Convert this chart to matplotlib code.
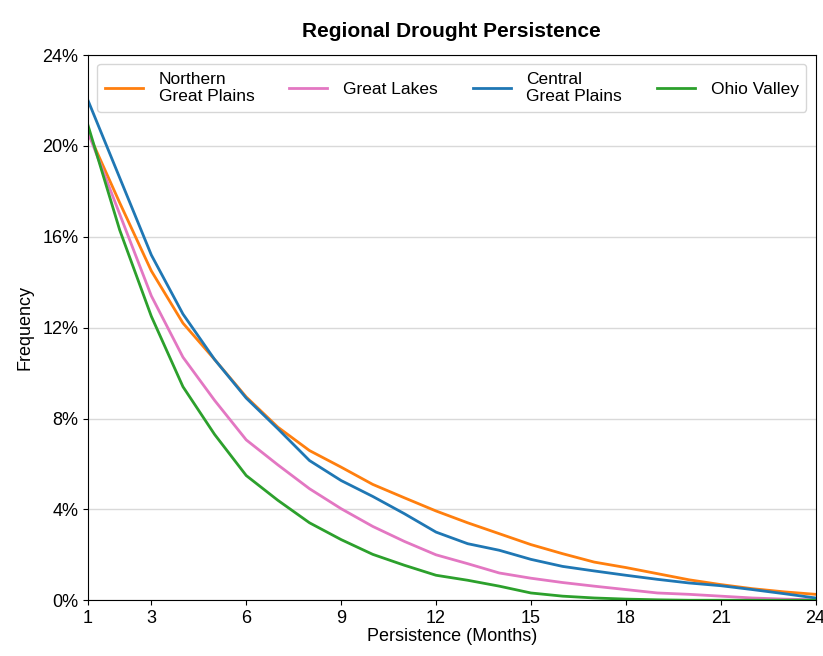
import matplotlib
matplotlib.use("Agg")
import matplotlib.pyplot as plt
from matplotlib.ticker import FuncFormatter

plt.rcParams['font.family'] = ['Liberation Sans', 'DejaVu Sans']

months = list(range(1, 25))

northern_great_plains = [20.6, 17.5, 14.5, 12.2, 10.6, 8.95, 7.62, 6.59, 5.86, 5.10, 4.51, 3.93,
                         3.41, 2.93, 2.45, 2.05, 1.68, 1.44, 1.17, 0.90, 0.69, 0.51, 0.37, 0.26]
great_lakes = [20.6, 17.0, 13.4, 10.7, 8.8, 7.06, 5.96, 4.91, 4.03, 3.25, 2.59, 2.0,
               1.61, 1.2, 0.97, 0.78, 0.62, 0.47, 0.32, 0.26, 0.18, 0.1, 0.05, 0.02]
central_great_plains = [22.0, 18.6, 15.2, 12.6, 10.6, 8.9, 7.55, 6.15, 5.27, 4.57, 3.81, 3.0,
                        2.49, 2.2, 1.8, 1.49, 1.29, 1.1, 0.92, 0.76, 0.64, 0.47, 0.29, 0.1]
ohio_valley = [20.9, 16.3, 12.5, 9.4, 7.3, 5.49, 4.40, 3.41, 2.67, 2.02, 1.54, 1.1,
               0.88, 0.62, 0.32, 0.18, 0.1, 0.05, 0.02, 0.0, 0.0, 0.0, 0.0, 0.0]

series = [
    ("Northern\nGreat Plains", northern_great_plains, "#ff7f0e"),
    ("Great Lakes", great_lakes, "#e377c2"),
    ("Central\nGreat Plains", central_great_plains, "#1f77b4"),
    ("Ohio Valley", ohio_valley, "#2ca02c"),
]

fig, ax = plt.subplots(figsize=(8.23, 6.56), dpi=100)
fig.subplots_adjust(left=0.107, right=0.991, top=0.916, bottom=0.085)

for label, vals, color in series:
    ax.plot(months, vals, color=color, linewidth=2, label=label)

ax.set_xlim(1, 24)
ax.set_ylim(0, 24)
ax.set_xticks([1, 3, 6, 9, 12, 15, 18, 21, 24])
ax.set_yticks([0, 4, 8, 12, 16, 20, 24])
ax.yaxis.set_major_formatter(FuncFormatter(lambda v, p: f"{v:.0f}%"))
ax.tick_params(labelsize=13)
ax.grid(axis='y', color='#d9d9d9', linewidth=1)
ax.set_axisbelow(True)

ax.set_xlabel("Persistence (Months)", fontsize=13, labelpad=1)
ax.set_ylabel("Frequency", fontsize=13, labelpad=6)
ax.set_title("Regional Drought Persistence", fontsize=15, fontweight='bold', pad=13)

leg = ax.legend(loc='upper center', ncol=4, fontsize=12.5, frameon=True,
                bbox_to_anchor=(0.5, 1.0), columnspacing=2.0, handlelength=2.2,
                borderpad=0.45, labelspacing=0.25, handletextpad=0.9)
for t in leg.get_texts():
    t.set_multialignment('left')

fig.savefig("out.png", dpi=100)
